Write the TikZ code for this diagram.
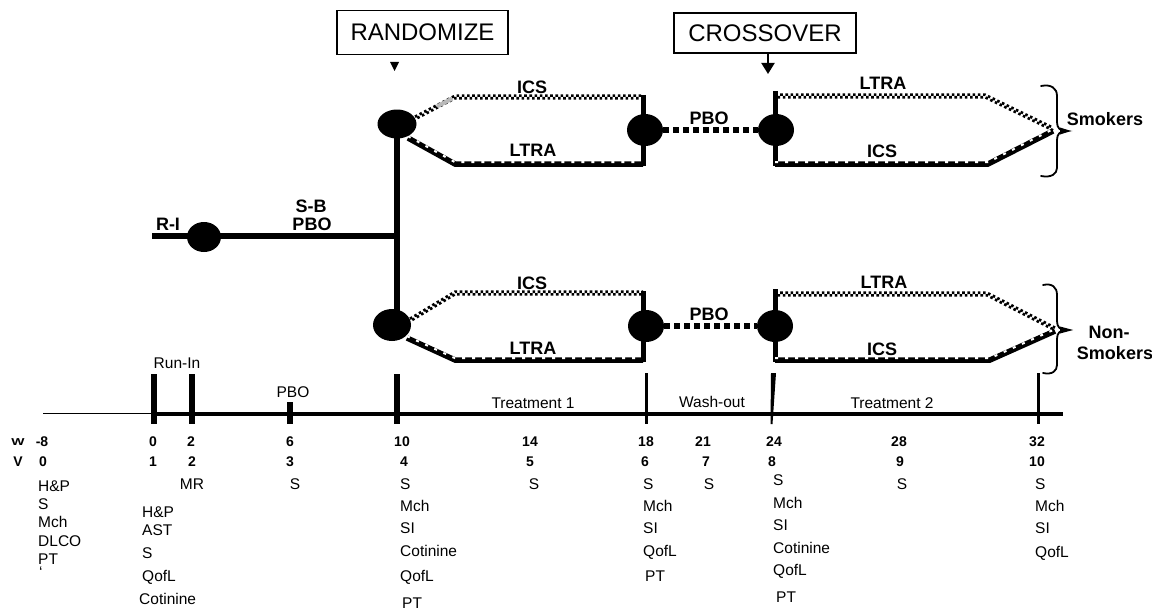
\documentclass[tikz,border=0pt]{standalone}
\usepackage{fontspec}
\setmainfont{Liberation Sans}
\usetikzlibrary{shapes.geometric,arrows.meta,calc}
\newcommand\chkpath[1]{\draw[chkA] #1; \draw[chkB] #1;}
\newcommand\solpath[1]{\draw[lowbase] #1; \draw[lownotch] #1;}
\begin{document}
\begin{tikzpicture}[x=1pt,y=-1pt,
  dot/.style={ellipse, fill=black, inner sep=0pt, minimum width=36pt, minimum height=32pt},
  reg/.style={font=\fontsize{15.5}{18}\selectfont, inner sep=0pt},
  lbl/.style={font=\bfseries\fontsize{18}{20}\selectfont, inner sep=0pt},
  num/.style={font=\bfseries\fontsize{14}{16}\selectfont, inner sep=0pt},
  bigbox/.style={draw, line width=1.6pt, font=\fontsize{24}{26}\selectfont, inner sep=0pt},
  trunk/.style={line width=6pt},
  vbar/.style={line width=5pt},
  chkA/.style={line width=2.6pt, dash pattern=on 2.6pt off 2.6pt, transform canvas={yshift=1.3pt}},
  chkB/.style={line width=2.6pt, dash pattern=on 2.6pt off 2.6pt, dash phase=2.6pt, transform canvas={yshift=-1.3pt}},
  lowbase/.style={line width=5.5pt, line join=miter},
  lownotch/.style={white, line width=2pt, dash pattern=on 3pt off 7pt, transform canvas={yshift=1.8pt}},
  pbo/.style={line width=6pt, dash pattern=on 6pt off 4pt},
  bracestyle/.style={line width=1.8pt, line cap=round},
  tickA/.style={line width=6pt},
  tickB/.style={line width=3pt}
]
\useasboundingbox (0,0) rectangle (1152,610);

% ---------- top boxes ----------
\node[bigbox, minimum width=171pt, minimum height=44pt] (rand) at (422.5,32.5) {RANDOMIZE};
\node[bigbox, minimum width=182pt, minimum height=40pt] (cross) at (765,33) {CROSSOVER};
\fill (390,62) -- (399,62) -- (394.5,71) -- cycle;
\coordinate (crossTip) at (768,74);
\draw[line width=2pt, -{Triangle[length=11pt,width=13pt]}] (cross.south -| crossTip) -- (crossTip);

% ---------- run-in line ----------
\coordinate (riStart) at (152,236);
\coordinate (riJoin) at (397,236);
\coordinate (vTop) at (397,124);
\coordinate (vBot) at (397,325);
\draw[trunk] (riStart) -- (riJoin);
\draw[trunk] (vTop) -- (vBot);

% ---------- smokers branch ----------
\coordinate (tlU0) at (415,118); \coordinate (tlU1) at (455,97); \coordinate (tlU2) at (643,97);
\coordinate (tlL0) at (408,138); \coordinate (tlL1) at (455,164); \coordinate (tlL2) at (643,164);
\chkpath{(tlU0) -- (tlU1) -- (tlU2)}
\draw[gray!55, line width=4pt] ($(tlU0)!0.55!(tlU1)$) -- ($(tlU0)!0.93!(tlU1)$);
\solpath{(tlL0) -- (tlL1) -- (tlL2)}
\coordinate (tmT) at (643,95); \coordinate (tmB) at (643,166);
\draw[vbar] (tmT) -- (tmB);
\coordinate (trT) at (775,91); \coordinate (trB) at (775,166);
\draw[vbar] (trT) -- (trB);
\coordinate (trU0) at (775,96); \coordinate (trU1) at (985,96); \coordinate (trU2) at (1053,129);
\coordinate (trL0) at (775,164); \coordinate (trL1) at (988,164); \coordinate (trL2) at (1053,131);
\chkpath{(trU0) -- (trU1) -- (trU2)}
\solpath{(trL0) -- (trL1) -- (trL2)}

% ---------- non-smokers branch ----------
\coordinate (blU0) at (410,320); \coordinate (blU1) at (455,293); \coordinate (blU2) at (643,293);
\coordinate (blL0) at (407,338); \coordinate (blL1) at (455,360); \coordinate (blL2) at (643,360);
\chkpath{(blU0) -- (blU1) -- (blU2)}
\solpath{(blL0) -- (blL1) -- (blL2)}
\coordinate (bmT) at (643,291); \coordinate (bmB) at (643,362);
\draw[vbar] (bmT) -- (bmB);
\coordinate (brT) at (775,289); \coordinate (brB) at (775,362);
\draw[vbar] (brT) -- (brB);
\coordinate (brU0) at (775,294); \coordinate (brU1) at (987,294); \coordinate (brU2) at (1055,329);
\coordinate (brL0) at (775,360); \coordinate (brL1) at (990,360); \coordinate (brL2) at (1055,331);
\chkpath{(brU0) -- (brU1) -- (brU2)}
\solpath{(brL0) -- (brL1) -- (brL2)}

% ---------- dots ----------
\node[dot, minimum width=34pt, minimum height=30pt] (riDot) at (204,237) {};
\node[dot, minimum width=39pt, minimum height=29pt] (tlDot) at (397,124) {};
\node[dot] (tmDot) at (645,130) {};
\node[dot] (trDot) at (776,130) {};
\node[dot, minimum width=38pt] (blDot) at (392,325) {};
\node[dot] (bmDot) at (646,326) {};
\node[dot] (brDot) at (775,326) {};
\draw[pbo] (tmDot.east) -- (trDot.west);
\draw[pbo] (bmDot.east) -- (brDot.west);

% ---------- braces ----------
\draw[bracestyle] (1041,86) .. controls (1051,84) and (1057,88) .. (1057,96) -- (1057,122)
  .. controls (1057,128) and (1060,131) .. (1066,131)
  .. controls (1060,131) and (1057,134) .. (1057,140) -- (1057,168)
  .. controls (1057,174) and (1051,178) .. (1041,176);
\fill (1060,127.5) -- (1071,131) -- (1060,134.5) -- cycle;
\draw[bracestyle] (1043,285) .. controls (1052,283) and (1057,287) .. (1057,295) -- (1057,321)
  .. controls (1057,327) and (1060,330) .. (1066,330)
  .. controls (1060,330) and (1057,333) .. (1057,339) -- (1057,365)
  .. controls (1057,371) and (1052,375) .. (1043,373);
\fill (1060,326.5) -- (1073,330) -- (1060,333.5) -- cycle;

% ---------- branch labels ----------
\node[lbl] (riL) at (168,224) {R-I};
\node[lbl] (sbL) at (311,206) {S-B};
\node[lbl] (pbL) at (312,224) {PBO};
\node[lbl] (s1) at (532,87) {ICS};
\node[lbl] (s2) at (533,150) {LTRA};
\node[lbl] (s3) at (709,118) {PBO};
\node[lbl] (s4) at (883,83) {LTRA};
\node[lbl] (s5) at (882,151) {ICS};
\node[lbl] (smk) at (1105,119) {Smokers};
\node[lbl] (n1) at (532,283) {ICS};
\node[lbl] (n2) at (533,348) {LTRA};
\node[lbl] (n3) at (709,314) {PBO};
\node[lbl] (n4) at (884,282) {LTRA};
\node[lbl] (n5) at (882,349) {ICS};
\node[lbl] (nsA) at (1109,332) {Non-};
\node[lbl] (nsB) at (1115,353) {Smokers};

% ---------- time axis ----------
\coordinate (ax0) at (43,413.5); \coordinate (ax1) at (153,413.5); \coordinate (ax2) at (1063,414);
\draw[line width=1pt] (ax0) -- (ax1);
\draw[line width=4pt] (ax1 |- ax2) -- (ax2);
\draw[tickA] (154,374) -- (154,424);
\draw[tickA] (192,374) -- (192,424);
\draw[tickA] (290,402) -- (290,424);
\draw[tickA] (397,374) -- (397,424);
\draw[tickB] (646,373) -- (646,424);
\fill (771,373) -- (776,373) -- (772.5,424) -- (770.5,424) -- cycle;
\draw[tickB] (1038,373) -- (1038,424);

\node[reg] (tRun) at (177,363) {Run-In};
\node[reg] (tPbo) at (293,392) {PBO};
\node[reg] (tT1) at (533,403) {Treatment 1};
\node[reg] (tWo) at (712,402) {Wash-out};
\node[reg] (tT2) at (892,403) {Treatment 2};

% ---------- week / visit numbers ----------
\node[font=\bfseries\fontsize{10}{12}\selectfont, inner sep=0pt, xscale=1.4] (wLab) at (18,442) {W};
\node[num] (vLab) at (18,462) {V};
\foreach \xw/\xv/\w/\v [count=\i] in {42/43/-8/0, 153/153/0/1, 191/192/2/2, 290/290/6/3, 402/404/10/4, 530/530/14/5, 646/645/18/6, 703/706/21/7, 774/772/24/8, 899/900/28/9, 1037/1037/32/10}{
  \node[num] (wk\i) at (\xw,442) {\w};
  \node[num] (vs\i) at (\xv,462) {\v};
}

% ---------- assessments ----------
\foreach \t/\y [count=\i] in {H\&P/486, S/504, Mch/522, DLCO/541, PT/559}
  \node[reg, anchor=west] (a0-\i) at (38,\y) {\t};
\node[reg, anchor=north west] (a0-6) at (39,567) {\symbol{"60}};
\foreach \t/\y [count=\i] in {H\&P/512, AST/530, S/553, QofL/577}
  \node[reg, anchor=west] (a1-\i) at (142,\y) {\t};
\node[reg, anchor=west] (a1-5) at (139,599) {Cotinine};
\node[reg] (a2-1) at (192,484) {MR};
\node[reg] (a3-1) at (295,484) {S};
\foreach \t/\y [count=\i] in {S/484, Mch/506, SI/528, Cotinine/551, QofL/577}
  \node[reg, anchor=west] (a4-\i) at (400,\y) {\t};
\node[reg, anchor=west] (a4-6) at (402,603) {PT};
\node[reg] (a5-1) at (534,484) {S};
\foreach \t/\y [count=\i] in {S/484, Mch/506, SI/528, QofL/552}
  \node[reg, anchor=west] (a6-\i) at (643,\y) {\t};
\node[reg, anchor=west] (a6-5) at (645,576) {PT};
\node[reg] (a7-1) at (709,484) {S};
\foreach \t/\y [count=\i] in {S/480, Mch/503, SI/525, Cotinine/548, QofL/571}
  \node[reg, anchor=west] (a8-\i) at (773,\y) {\t};
\node[reg, anchor=west] (a8-6) at (776,597) {PT};
\node[reg] (a9-1) at (902,484) {S};
\foreach \t/\y [count=\i] in {S/484, Mch/506, SI/528, QofL/553}
  \node[reg, anchor=west] (a10-\i) at (1035,\y) {\t};
\end{tikzpicture}
\end{document}
